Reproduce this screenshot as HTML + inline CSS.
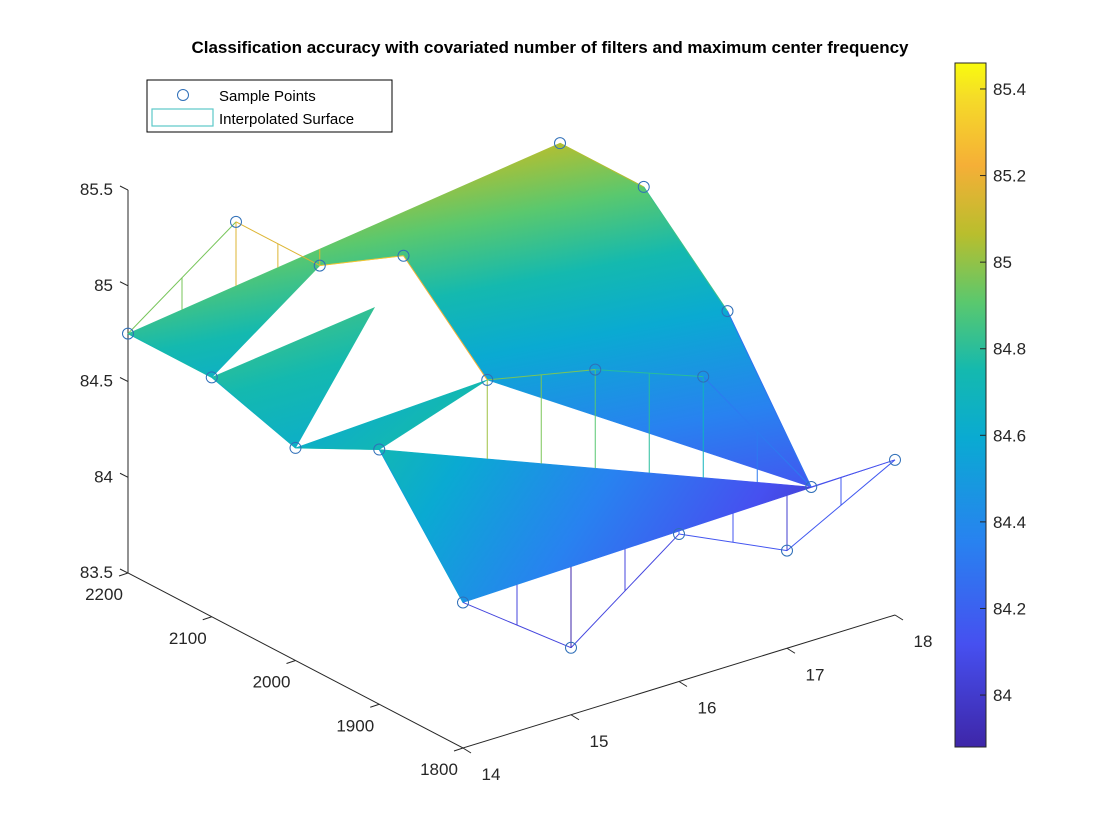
<!DOCTYPE html>
<html><head><meta charset="utf-8"><style>
html,body{margin:0;padding:0;background:#fff;}
svg{display:block;font-family:"Liberation Sans",Arial,sans-serif;}
</style></head><body>
<svg id="chart" width="1120" height="840" viewBox="0 0 1120 840" xmlns="http://www.w3.org/2000/svg">
<defs id="defs"></defs>
<rect width="1120" height="840" fill="#fff"/>
<text x="550" y="53" text-anchor="middle" font-size="17" font-weight="bold" fill="#000">Classification accuracy with covariated number of filters and maximum center frequency</text>
<g id="axes"></g>
<g id="surf"></g>
<g id="wires"></g>
<g id="pts"></g>
<g id="cbar"></g>
<g>
<rect x="147" y="80" width="245" height="52" fill="#fff" stroke="#000" stroke-width="1"/>
<circle cx="183" cy="95" r="5.5" fill="none" stroke="#2f6fb8"/>
<text x="219" y="101" font-size="15">Sample Points</text>
<rect x="152" y="109" width="61" height="17" fill="#fff" stroke="#5cc9c9" stroke-width="1.2"/>
<text x="219" y="124" font-size="15">Interpolated Surface</text>
</g>
</svg>
<script>
const filters=[14,15,16,17,18];
const freqs=[1800,1900,2000,2100,2200];
const acc14=[84.26,84.83,84.61,84.75,84.75];
const acc15=[83.85,85.02,85.44,85.16,85.16];
const acc16=[84.27,84.90,null,null,null];
const acc17=[84.01,84.69,null,null,null];
const acc18=[84.31,83.94,84.63,85.05,85.05];
const zTicks=[83.5,84,84.5,85,85.5];
const qTicks=[1800,1900,2000,2100,2200];
const fTicks=[14,15,16,17,18];
const cbTicks=[84,84.2,84.4,84.6,84.8,85,85.2,85.4];
const surfColorUpper=[84.8,85.05,84.15];
const surfColorBand=[84.78,84.64,84.82];
const surfColorStrip=[84.64,84.72,84.74];
const surfColorLower=[84.72,84.45,84.05];
const cmin=83.88,cmax=85.46;

const acc=[acc14,acc15,acc16,acc17,acc18];
const NS='http://www.w3.org/2000/svg';
function P(f,q,z){
  const x=463+(f-14)*108-(q-1800)*0.8375;
  const y=748-(f-14)*33.25-(q-1800)*0.4375-(z-83.5)*191.5;
  return [x,y];
}
function D(fi,qi){return [filters[fi],freqs[qi],acc[fi][qi]];}
function lerp3(a,b,t){return [a[0]+(b[0]-a[0])*t,a[1]+(b[1]-a[1])*t,a[2]+(b[2]-a[2])*t];}
const stops=[[0,62,38,168],[0.15,70,80,240],[0.3,40,130,240],[0.45,10,170,210],[0.55,20,185,175],[0.65,90,200,110],[0.75,185,190,45],[0.85,245,175,55],[0.95,245,220,40],[1,249,251,14]];
function parula(z){
  let t=Math.max(0,Math.min(1,(z-cmin)/(cmax-cmin)));
  for(let i=1;i<stops.length;i++){if(t<=stops[i][0]){const a=stops[i-1],b=stops[i];const u=(t-a[0])/(b[0]-a[0]);
    return 'rgb('+[1,2,3].map(k=>Math.round(a[k]+(b[k]-a[k])*u)).join(',')+')';}}
  return 'rgb(249,251,14)';
}
function mk(tag,attrs,parent){const e=document.createElementNS(NS,tag);for(const k in attrs)e.setAttribute(k,attrs[k]);parent.appendChild(e);return e;}
const defs=document.getElementById('defs');
const axes=document.getElementById('axes');
const surf=document.getElementById('surf');
const wires=document.getElementById('wires');
const pts=document.getElementById('pts');
const cbar=document.getElementById('cbar');

const c0=P(14,2200,83.5),c1=P(14,1800,83.5),c2=P(18,1800,83.5),c3=P(14,2200,85.5);
let l=mk('polyline',{points:[c3,c0,c1,c2].map(p=>p.join(',')).join(' '),fill:'none',stroke:'#262626','stroke-width':1},axes);


zTicks.forEach(z=>{const p=P(14,2200,z);
  const t=mk('line',{x1:p[0]-8,y1:p[1]-4,x2:p[0],y2:p[1],stroke:'#262626'},axes);
  
  
  const tx=mk('text',{x:p[0]-15,y:p[1]+5,'text-anchor':'end','font-size':17,fill:'#262626'},axes);tx.textContent=z;
  
  
});
qTicks.forEach(q=>{const p=P(14,q,83.5);
  const t=mk('line',{x1:p[0]-9,y1:p[1]+3,x2:p[0],y2:p[1],stroke:'#262626'},axes);
  
  
  const tx=mk('text',{x:p[0]-24,y:p[1]+27,'text-anchor':'middle','font-size':17,fill:'#262626'},axes);tx.textContent=q;
  
  
});
fTicks.forEach(f=>{const p=P(f,1800,83.5);
  const t=mk('line',{x1:p[0],y1:p[1],x2:p[0]+8,y2:p[1]+5,stroke:'#262626'},axes);
  
  
  const tx=mk('text',{x:p[0]+28,y:p[1]+32,'text-anchor':'middle','font-size':17,fill:'#262626'},axes);tx.textContent=f;
  
  
});

let gid=0;
function poly(vs,anchors,vals,name){
  const sp=vs.map(v=>P(v[0],v[1],v[2]));
  const ap=anchors.map(v=>P(v[0],v[1],v[2]));
  const x21=ap[1][0]-ap[0][0],y21=ap[1][1]-ap[0][1],x31=ap[2][0]-ap[0][0],y31=ap[2][1]-ap[0][1];
  const d1=vals[1]-vals[0],d2=vals[2]-vals[0];
  const det=x21*y31-x31*y21;
  const a=(d1*y31-d2*y21)/det,b=(x21*d2-x31*d1)/det;
  const n2=a*a+b*b;
  const gx1=ap[0][0]-(vals[0]-cmin)*a/n2,gy1=ap[0][1]-(vals[0]-cmin)*b/n2;
  const gx2=ap[0][0]+(cmax-vals[0])*a/n2,gy2=ap[0][1]+(cmax-vals[0])*b/n2;
  const id='g'+(gid++);
  const g=mk('linearGradient',{id:id,gradientUnits:'userSpaceOnUse',x1:gx1,y1:gy1,x2:gx2,y2:gy2},defs);
  stops.forEach(s=>mk('stop',{offset:s[0],'stop-color':'rgb('+s[1]+','+s[2]+','+s[3]+')'},g));
  const e=mk('polygon',{points:sp.map(p=>p.join(',')).join(' '),fill:'url(#'+id+')',stroke:'url(#'+id+')','stroke-width':0.6},surf);
  
  
}
poly([D(0,4),D(4,4),D(4,3),D(4,2),D(4,1),D(1,1),D(1,2),D(1,3),D(0,3)],[D(0,4),D(4,4),D(4,1)],surfColorUpper,'surface-upper-slab');
const bandTip=lerp3(D(1,2),D(0,2),0.27);
poly([D(0,3),D(0,2),bandTip],[D(0,3),D(0,2),bandTip],surfColorBand,'surface-left-band');
poly([D(0,2),D(0,1),D(1,1)],[D(0,2),D(0,1),D(1,1)],surfColorStrip,'surface-thin-strip');
poly([D(0,1),D(0,0),D(4,0),D(4,1)],[D(0,1),D(0,0),D(4,1)],surfColorLower,'surface-lower-slab');

function wire(list,name){
  for(let i=0;i<list.length-1;i++){
    const a=list[i],b=list[i+1];const pa=P(...a),pb=P(...b);
    const e=mk('line',{x1:pa[0],y1:pa[1],x2:pb[0],y2:pb[1],stroke:parula((a[2]+b[2])/2),'stroke-width':1},wires);
    
    
  }
}
function stems(list,base,ts,name){
  const b0=P(...base[0]),b1=P(...base[1]);
  for(let i=0;i<list.length-1;i++){
    ts.forEach(t=>{
      const v=lerp3(list[i],list[i+1],t);const p=P(...v);
      const u=(p[0]-b0[0])/(b1[0]-b0[0]);const by=b0[1]+(b1[1]-b0[1])*u;
      const e=mk('line',{x1:p[0],y1:p[1],x2:p[0],y2:by,stroke:parula(v[2]),'stroke-width':1},wires);
      
      
    });
  }
}
const topWire=[D(0,4),D(1,4),D(1,3),D(1,2),D(1,1)];
wire(topWire,'wire-filters-15');
stems([D(0,4),D(1,4),D(1,3)],[D(0,4),D(4,4)],[0.5,1],'stem-top');
const row1800=[D(0,0),D(1,0),D(2,0),D(3,0),D(4,0)];
wire(row1800,'wire-freq-1800');
stems(row1800,[D(0,0),D(4,0)],[0.5,1],'stem-1800');
const row1900=[D(1,1),D(2,1),D(3,1),D(4,1)];
wire(row1900,'wire-freq-1900');
stems(row1900,[D(0,1),D(4,1)],[0,0.5],'stem-1900');
wire([D(0,4),D(0,3),D(0,2),D(0,1),D(0,0)],'wire-filters-14');
wire([D(4,4),D(4,3),D(4,2),D(4,1),D(4,0)],'wire-filters-18');

acc.forEach((row,fi)=>row.forEach((z,qi)=>{
  if(z===null)return;
  const p=P(filters[fi],freqs[qi],z);
  const c=mk('circle',{cx:p[0],cy:p[1],r:5.5,fill:'none',stroke:'#2f6fb8','stroke-width':1},pts);
  
  
}));

const cbx=955,cbw=31,cbt=63,cbb=747;
function cy(v){return cbb-(v-cmin)/(cmax-cmin)*(cbb-cbt);}
const cg=mk('linearGradient',{id:'cbg',x1:0,y1:1,x2:0,y2:0},defs);
stops.forEach(s=>mk('stop',{offset:s[0],'stop-color':'rgb('+s[1]+','+s[2]+','+s[3]+')'},cg));
const cr=mk('rect',{x:cbx,y:cbt,width:cbw,height:cbb-cbt,fill:'url(#cbg)',stroke:'#262626','stroke-width':1},cbar);


cbTicks.forEach(v=>{const y=cy(v);
  const t=mk('line',{x1:cbx+cbw-6,y1:y,x2:cbx+cbw,y2:y,stroke:'#262626'},cbar);
  
  
  const tx=mk('text',{x:cbx+cbw+7,y:y+6,'font-size':17,fill:'#262626'},cbar);tx.textContent=v.toFixed(1).replace(/\.0$/,'');
  
  
});
</script>
</body></html>
